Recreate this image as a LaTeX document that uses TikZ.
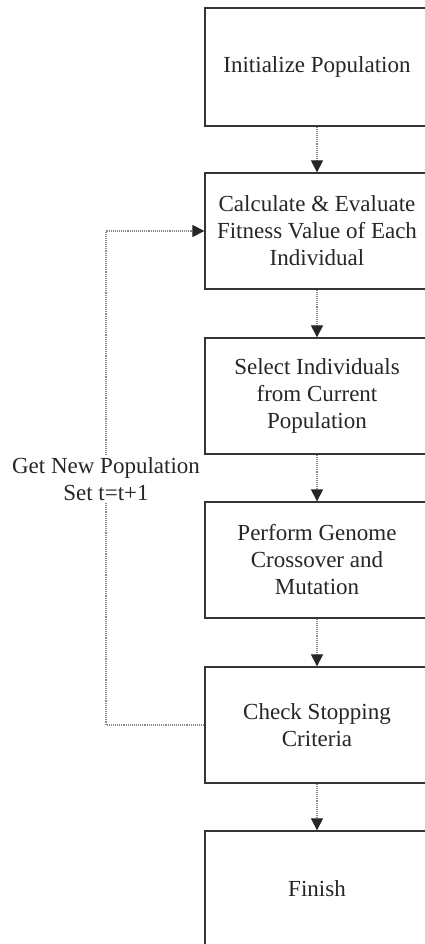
\documentclass[tikz,border=0pt]{standalone}
\usepackage{fontspec}
\setmainfont{Liberation Serif}
\usetikzlibrary{arrows.meta}
\definecolor{ink}{HTML}{262626}
\definecolor{frame}{HTML}{353535}
\definecolor{wire}{HTML}{8A8A8A}
\begin{document}
\begin{tikzpicture}[x=1pt,y=-1pt,
  stepbox/.style={draw=frame,line width=1.3pt,minimum width=224pt,
    minimum height=116pt,inner sep=0pt,align=center,text=ink,
    font=\fontsize{23}{27}\selectfont},
  flow/.style={wire,line width=1.1pt,densely dotted,
    -{Triangle[length=12pt,width=12pt,color=black!85]}},
  loopline/.style={wire,line width=1.1pt,densely dotted}]
\useasboundingbox (0,0) rectangle (425,944);
\clip (0,0) rectangle (425,944);
\fill[white] (0,0) rectangle (425,944);

% process boxes (right side runs past the page edge)
\node[stepbox,minimum height=118pt] (init) at (317,67) {Initialize Population};
\node[stepbox] (fit) at (317,231) {Calculate \& Evaluate\\Fitness Value of Each\\Individual};
\node[stepbox] (sel) at (317,396) {Select Individuals\\from Current\\Population};
\node[stepbox] (cross) at (317,560) {Perform Genome\\Crossover and\\Mutation};
\node[stepbox] (check) at (317,725) {Check Stopping\\Criteria};
\node[stepbox] (fin) at (317,889) {Finish};

% main flow
\draw[flow] (init) -- (fit);
\draw[flow] (fit) -- (sel);
\draw[flow] (sel) -- (cross);
\draw[flow] (cross) -- (check);
\draw[flow] (check) -- (fin);

% feedback loop with its label
\coordinate (lb) at (106,725);
\coordinate (lt) at (106,231);
\node[text=ink,align=center,font=\fontsize{23}{27}\selectfont,inner sep=2pt] (newpop) at (106,479) {Get New Population\\Set t=t+1};
\draw[loopline] (check.west) -- (lb) -- (newpop.south);
\draw[flow] (newpop.north) -- (lt) -- (fit.west);
\end{tikzpicture}
\end{document}
